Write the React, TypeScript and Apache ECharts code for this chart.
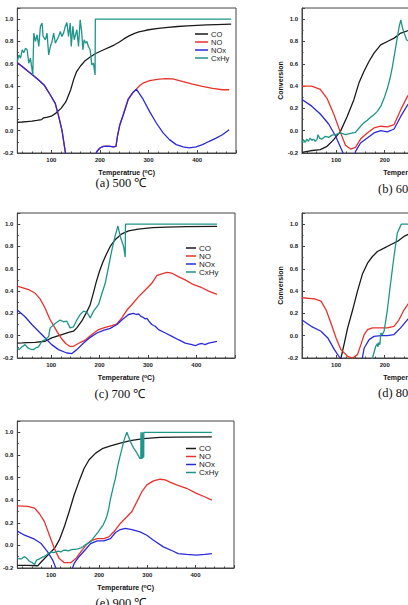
import React, { useEffect, useRef } from 'react';
import * as echarts from 'echarts';

// ---------- labels ----------
const SPECIES = ['CO', 'NO', 'NOx', 'CxHy'];
const COLORS = ['#1a1a1a', '#e8322d', '#2a2ad8', '#1f958a'];
const X_TICKS_FULL = [100, 200, 300, 400];
const X_TICKS_CUT = [100, 200];
const X_TITLES = ['Temperatrue', 'Temperature', 'Temperature', 'Temperature', 'Temperature'];
const CAPTIONS = ['(a) 500 ℃', '(b) 600 ℃', '(c) 700 ℃', '(d) 800 ℃', '(e) 900 ℃'];
const Y_NAME = 'Conversion';

// ---------- (a) 500 ℃ ----------
const A_CO = [[30,0.075],[40,0.078],[50,0.082],[60,0.086],[70,0.092],[80,0.1],[84,0.115],[90,0.12],[100,0.13],[110,0.16],[120,0.2],[130,0.26],[140,0.37],[146,0.46],[152,0.53],[160,0.58],[170,0.63],[180,0.66],[190,0.69],[200,0.71],[210,0.73],[220,0.75],[230,0.77],[240,0.795],[250,0.825],[260,0.85],[270,0.87],[280,0.885],[290,0.895],[300,0.905],[320,0.918],[340,0.927],[360,0.934],[380,0.94],[400,0.944],[420,0.948],[440,0.951],[470,0.955]];
const A_NOX = [[30,0.61],[40,0.575],[50,0.54],[64,0.49],[75,0.45],[85,0.41],[98,0.32],[108,0.245],[115,0.13],[122,0.0],[129,-0.2],[135,-0.4],[186,-0.4],[193,-0.19],[200,-0.155],[207,-0.14],[215,-0.138],[221,-0.14],[227,-0.146],[233,-0.14],[236,-0.05],[241,0.054],[248,0.143],[258,0.28],[268,0.343],[275,0.373],[289,0.28],[302,0.173],[316,0.069],[330,-0.02],[343,-0.08],[357,-0.125],[371,-0.146],[384,-0.155],[398,-0.146],[411,-0.125],[425,-0.095],[439,-0.066],[452,-0.036],[466,0.009]];
const A_NO = [[30,0.61],[40,0.575],[50,0.54],[64,0.49],[75,0.45],[85,0.41],[98,0.32],[108,0.245],[115,0.13],[122,0.0],[129,-0.2],[135,-0.4],[186,-0.4],[193,-0.19],[200,-0.155],[207,-0.14],[215,-0.138],[221,-0.14],[227,-0.146],[233,-0.14],[236,-0.05],[241,0.054],[248,0.143],[258,0.28],[268,0.343],[275,0.373],[282,0.405],[289,0.427],[302,0.448],[322,0.463],[336,0.466],[350,0.464],[371,0.44],[391,0.418],[411,0.397],[432,0.379],[452,0.367],[466,0.367]];
const A_CXHY = [[30,0.62],[33.2,0.68],[36.6,0.65],[40,0.725],[43.4,0.7],[46.8,0.74],[50.2,0.725],[53.6,0.605],[57,0.65],[61.8,0.5],[63.9,0.875],[67.3,0.8],[70.7,0.86],[74.1,0.755],[77.5,0.935],[80.9,0.965],[83,0.845],[87.7,0.815],[91.1,0.875],[94.5,0.68],[98,0.755],[101.4,0.8],[104.8,0.875],[108.2,0.785],[111.6,0.815],[115,0.845],[118.4,0.89],[121.8,0.845],[125.2,0.875],[128.6,0.935],[132,0.97],[135.4,0.845],[138.9,0.965],[140.9,0.755],[144.3,0.935],[147,0.815],[152.5,0.905],[155.9,0.755],[159.3,0.995],[162.7,0.875],[164.8,0.725],[167.5,0.815],[170.2,0.785],[173,0.8],[176.3,0.755],[179.8,0.725],[183.2,0.59],[186.6,0.605],[190,0.5],[190.5,1.0],[470,1.0]];

// ---------- (b) 600 ℃ ----------
const B_CO = [[30,-0.194],[47,-0.18],[67.6,-0.17],[81.4,-0.14],[95.2,-0.08],[109,-0.006],[122.8,0.128],[136.6,0.278],[146.9,0.427],[157.2,0.531],[167.6,0.62],[177.9,0.695],[191.7,0.77],[205.5,0.8],[219.3,0.83],[233.1,0.875],[249.7,0.9],[270,0.92],[300,0.94],[350,0.955],[400,0.96],[470,0.965]];
const B_NO = [[30,0.4],[50,0.4],[67.6,0.37],[81.4,0.29],[95.2,0.15],[109,-0.015],[119.3,-0.13],[129.7,-0.165],[140,-0.15],[150.3,-0.075],[164.1,-0.02],[177.9,0.025],[191.7,0.04],[205.5,0.035],[219.3,0.055],[233.1,0.19],[246.9,0.31],[260,0.38],[280,0.45],[300,0.5],[330,0.52],[360,0.5],[400,0.45],[440,0.4],[470,0.38]];
const B_NOX = [[30,0.28],[50,0.22],[67.6,0.15],[84.8,0.06],[98.6,-0.045],[112.4,-0.18],[116,-0.22],[125,-0.3],[135,-0.3],[140,-0.185],[150.3,-0.11],[164.1,-0.065],[177.9,-0.02],[191.7,0.0],[205.5,-0.01],[219.3,0.015],[233.1,0.13],[246.9,0.23],[260,0.3],[280,0.32],[300,0.25],[340,0.1],[380,0.0],[420,-0.05],[470,-0.05]];
const B_CXHY = [[30,-0.11],[33,-0.08],[36.6,-0.105],[40,-0.075],[43.4,-0.095],[46.9,-0.066],[50.3,-0.087],[53.8,-0.075],[57.2,-0.095],[60.7,-0.08],[62.8,-0.036],[66,-0.066],[71,-0.075],[78,-0.05],[84.8,-0.06],[91.7,-0.04],[98.6,-0.036],[109,-0.02],[119.3,-0.036],[129.7,-0.025],[140,-0.015],[150.3,0.04],[157,0.07],[164.1,0.093],[171,0.12],[177.9,0.143],[184.8,0.173],[191.7,0.218],[198.6,0.29],[205.5,0.38],[211,0.47],[215.9,0.576],[222.8,0.755],[229.7,0.934],[233.1,0.994],[236.6,0.92],[240,0.875],[244.8,0.815],[249.7,0.8],[254,0.78],[254.5,1.0],[470,1.0]];

// ---------- (c) 700 ℃ ----------
const C_CO = [[30,-0.066],[40,-0.065],[50,-0.063],[67,-0.06],[87.6,-0.05],[101,-0.02],[122,0.01],[136,0.03],[146,0.04],[153,0.07],[163,0.13],[172,0.2],[180,0.27],[187,0.38],[193,0.48],[200,0.58],[207,0.66],[214,0.73],[222,0.8],[232,0.86],[245,0.91],[260,0.94],[280,0.955],[310,0.968],[340,0.974],[380,0.978],[443,0.98]];
const C_NO = [[30,0.445],[45,0.425],[55,0.41],[67,0.38],[77,0.33],[87,0.25],[97,0.15],[105,0.09],[113,0.03],[122,-0.03],[130,-0.07],[138,-0.095],[146,-0.095],[156,-0.07],[170,-0.04],[184,0.01],[198,0.055],[211.7,0.075],[225.5,0.09],[236,0.107],[246,0.16],[256.5,0.23],[267,0.28],[280.7,0.35],[294.5,0.41],[308,0.47],[318.6,0.54],[329,0.555],[339,0.567],[349.7,0.56],[363,0.53],[377,0.5],[394.5,0.457],[411.7,0.43],[425.5,0.4],[442.7,0.37]];
const C_NOX = [[30,0.23],[46,0.17],[60,0.1],[73.8,0.04],[87.6,-0.02],[101,-0.08],[115,-0.125],[132.4,-0.155],[142.8,-0.16],[153,-0.125],[167,-0.066],[180.7,-0.015],[194.5,0.024],[208,0.048],[222,0.066],[236,0.1],[246,0.14],[260,0.19],[270,0.2],[276,0.19],[280.7,0.195],[285,0.175],[290,0.165],[294.5,0.15],[298,0.155],[302,0.13],[308,0.1],[315,0.085],[322,0.054],[336,0.024],[349.7,-0.006],[363,-0.036],[377,-0.066],[391,-0.08],[398,-0.09],[405,-0.075],[411.7,-0.07],[418,-0.08],[425.5,-0.066],[442.7,-0.05]];
const C_CXHY = [[30,-0.11],[33,-0.125],[40,-0.1],[46,-0.08],[52,-0.11],[57,-0.12],[63.4,-0.125],[68,-0.11],[73.8,-0.1],[80.7,-0.05],[87.6,-0.035],[94.5,-0.01],[97.9,0.07],[108,0.11],[118.6,0.14],[125.5,0.125],[132.4,0.13],[139,0.07],[146,0.08],[153,0.14],[160,0.19],[167,0.22],[174,0.21],[180.7,0.16],[187.6,0.22],[198,0.28],[205,0.38],[211.7,0.47],[218.6,0.62],[225.5,0.77],[232,0.89],[237.9,0.985],[242.8,0.89],[249.7,0.8],[253,0.705],[253.5,1.0],[443,1.0]];

// ---------- (d) 800 ℃ ----------
const D_CO = [[30,-0.45],[80,-0.35],[105,-0.25],[110,-0.2],[117,-0.066],[123.8,0.07],[134,0.23],[144,0.4],[154,0.55],[164.6,0.65],[174.8,0.71],[185,0.755],[198.6,0.785],[212,0.815],[225.9,0.845],[239.5,0.89],[249,0.91],[270,0.93],[300,0.95],[350,0.96],[470,0.97]];
const D_NO = [[30,0.34],[55.8,0.33],[69,0.31],[79.6,0.23],[89.8,0.11],[100,-0.02],[110,-0.125],[123.8,-0.185],[134,-0.2],[144,-0.17],[151,-0.08],[157.8,0.01],[164.6,0.054],[174.8,0.07],[192,0.07],[205.4,0.07],[219,0.084],[229,0.14],[239.5,0.23],[249,0.29],[260,0.36],[280,0.45],[300,0.52],[330,0.55],[360,0.52],[400,0.47],[440,0.42],[470,0.4]];
const D_NOX = [[30,0.14],[49,0.084],[69,0.04],[83,-0.02],[96.6,-0.125],[108,-0.2],[115,-0.35],[150,-0.35],[154,-0.2],[157.8,-0.11],[168,-0.035],[178,-0.006],[192,0.0],[205.4,0.0],[219,0.01],[232.6,0.07],[246,0.14],[260,0.2],[280,0.22],[300,0.18],[340,0.05],[380,-0.03],[420,-0.06],[470,-0.06]];
const D_CXHY = [[30,-0.5],[170,-0.3],[174.8,-0.2],[181.6,-0.095],[185,-0.07],[186,-0.1],[188,-0.06],[190,-0.08],[192,0.024],[195,0.01],[198.6,0.04],[205.4,0.23],[212,0.47],[219,0.71],[225.9,0.92],[234,1.0],[470,1.0]];

// ---------- (e) 900 ℃ ----------
const E_CO = [[30,-0.176],[52,-0.176],[72.5,-0.18],[79.4,-0.147],[93,-0.087],[106.9,-0.028],[117,0.046],[127.5,0.164],[137.7,0.3],[148,0.446],[158,0.564],[168.6,0.68],[179,0.757],[192.7,0.816],[206.4,0.855],[223.5,0.88],[244,0.905],[264.7,0.926],[292,0.944],[326.5,0.956],[360.8,0.958],[434,0.96]];
const E_NO = [[30,0.35],[52,0.345],[65.7,0.33],[76,0.28],[86.3,0.21],[96.6,0.09],[106.9,-0.028],[117,-0.117],[127.5,-0.153],[141,-0.153],[151.5,-0.117],[161.8,-0.058],[172,0.0],[182,0.04],[196,0.06],[209.8,0.06],[220,0.075],[230.4,0.12],[244,0.194],[257.6,0.253],[268,0.3],[278.4,0.387],[288.7,0.475],[299,0.535],[312.8,0.57],[326.5,0.585],[336.8,0.58],[347,0.56],[360.8,0.535],[381.4,0.505],[402,0.46],[419,0.43],[434,0.4]];
const E_NOX = [[30,0.126],[45,0.09],[65.7,0.055],[79.4,0.016],[93,-0.058],[103.4,-0.13],[110,-0.2],[115,-0.3],[140,-0.3],[144.6,-0.2],[148,-0.16],[158,-0.1],[172,-0.034],[182,0.016],[196,0.04],[209.8,0.04],[223.5,0.06],[233.8,0.114],[244,0.14],[254.3,0.15],[268,0.14],[285,0.12],[299,0.09],[312.8,0.046],[333.4,-0.013],[354,-0.052],[364,-0.073],[381.4,-0.08],[402,-0.087],[419,-0.08],[434,-0.073]];
const E_CXHY = [[30,-0.117],[38,-0.12],[44,-0.1],[48.5,-0.11],[55,-0.14],[60,-0.15],[65.7,-0.17],[70,-0.13],[76,-0.12],[79.4,-0.11],[85,-0.1],[89.7,-0.087],[95,-0.07],[100,-0.058],[105,-0.065],[110,-0.058],[115,-0.05],[120.6,-0.058],[125,-0.045],[130.9,-0.043],[136,-0.048],[141,-0.04],[146,-0.036],[151.5,-0.034],[156,-0.03],[161.8,-0.022],[167,-0.01],[172,0.007],[177,0.02],[182,0.03],[187,0.06],[192.7,0.09],[198,0.12],[203,0.15],[208,0.18],[213,0.224],[216,0.26],[220,0.327],[223,0.4],[227,0.476],[230,0.53],[233.8,0.594],[237,0.67],[240.7,0.742],[244,0.8],[247.6,0.86],[251,0.92],[254.3,0.964],[257.6,1.0],[261,0.96],[264.7,0.92],[268,0.89],[271.6,0.86],[275,0.84],[278.4,0.816],[282,0.79],[284,0.77],[286.5,0.77],[286.7,1.0],[287.5,1.0],[287.7,0.77],[289.5,0.77],[289.7,1.0],[290.5,1.0],[290.7,0.78],[292.5,0.78],[292.7,1.0],[434,1.0]];

const PANEL_DATA = [
  [A_CO, A_NO, A_NOX, A_CXHY],
  [B_CO, B_NO, B_NOX, B_CXHY],
  [C_CO, C_NO, C_NOX, C_CXHY],
  [D_CO, D_NO, D_NOX, D_CXHY],
  [E_CO, E_NO, E_NOX, E_CXHY],
];

// ---------- layout ----------
const CANVAS_W = 540;
const GRIDS = [
  { left: 17, top: 8, width: 219, height: 145 },
  { left: 302, top: 8, width: 219, height: 145 },
  { left: 16, top: 213, width: 219, height: 145 },
  { left: 302, top: 213, width: 219, height: 145 },
  { left: 16, top: 421, width: 218, height: 147 },
];
const SHOW_YNAME = [false, true, false, true, false];
const PANEL_XTICKS = [X_TICKS_FULL, X_TICKS_CUT, X_TICKS_FULL, X_TICKS_CUT, X_TICKS_FULL];
const CAPTION_POS = [
  { x: 121, y: 183, align: 'center' },
  { x: 378, y: 189, align: 'left' },
  { x: 120, y: 394, align: 'center' },
  { x: 378, y: 393, align: 'left' },
  { x: 121, y: 603, align: 'center' },
];
const LEGENDS = [
  { left: 195, top: 30, itemWidth: 13, fontSize: 7.5 },
  { left: 186, top: 244, itemWidth: 10, fontSize: 8 },
  { left: 186, top: 444.5, itemWidth: 10, fontSize: 8 },
];

const SANS = '"Liberation Sans", Arial, sans-serif';
const SERIF = '"Liberation Serif", "Times New Roman", serif';

export default function App() {
  const ref = useRef<HTMLDivElement>(null);
  useEffect(() => {
    if (!ref.current) return;
    const chart = echarts.init(ref.current, undefined, { renderer: 'svg' });

    const xAxis = GRIDS.map((_, i) => ({
      type: 'value',
      gridIndex: i,
      min: 30,
      max: 480,
      name: `{t|${X_TITLES[i]} (}{s|o}{t|C)}`,
      nameLocation: 'middle',
      nameGap: 15,
      nameTextStyle: {
        rich: {
          t: { fontSize: 7, fontWeight: 'bold', fontFamily: SANS, color: '#111', lineHeight: 9 },
          s: { fontSize: 5, fontWeight: 'bold', fontFamily: SANS, color: '#111', lineHeight: 5, verticalAlign: 'top' },
        },
      },
      axisLine: { show: true, onZero: false, lineStyle: { color: '#444', width: 1 } },
      axisTick: { show: true, inside: true, length: 3, lineStyle: { color: '#444' } },
      minorTick: { show: true, splitNumber: 5, length: 1.5, lineStyle: { color: '#444' } },
      splitLine: { show: false },
      axisLabel: {
        showMinLabel: false,
        showMaxLabel: false,
        fontSize: 6,
        fontWeight: 'bold',
        fontFamily: SANS,
        color: '#222',
        margin: 4,
        formatter: (v: number) => (PANEL_XTICKS[i].includes(v) ? String(v) : ''),
      },
    }));

    const yAxis = GRIDS.map((_, i) => ({
      type: 'value',
      gridIndex: i,
      min: -0.2,
      max: 1.1,
      interval: 0.2,
      name: SHOW_YNAME[i] ? Y_NAME : '',
      nameLocation: 'middle',
      nameGap: 16,
      nameRotate: 90,
      nameTextStyle: { fontSize: 7, fontWeight: 'bold', fontFamily: SANS, color: '#111' },
      axisLine: { show: true, onZero: false, lineStyle: { color: '#444', width: 1 } },
      axisTick: { show: true, inside: true, length: 3, lineStyle: { color: '#444' } },
      minorTick: { show: true, splitNumber: 2, length: 1.5, lineStyle: { color: '#444' } },
      splitLine: { show: false },
      axisLabel: {
        showMaxLabel: false,
        fontSize: 6,
        fontWeight: 'bold',
        fontFamily: SANS,
        color: '#222',
        margin: 4,
        formatter: (v: number) => v.toFixed(1),
      },
    }));

    const series: any[] = [];
    PANEL_DATA.forEach((panel, i) => {
      panel.forEach((data, k) => {
        series.push({
          type: 'line',
          name: SPECIES[k],
          xAxisIndex: i,
          yAxisIndex: i,
          data,
          symbol: 'none',
          showSymbol: false,
          clip: true,
          lineStyle: { color: COLORS[k], width: 1.3 },
          itemStyle: { color: COLORS[k] },
          z: 2 + k,
        });
      });
    });

    const legend = LEGENDS.map((l) => ({
      data: SPECIES,
      orient: 'vertical',
      left: l.left,
      top: l.top,
      icon: 'rect',
      itemWidth: l.itemWidth,
      itemHeight: 1.5,
      itemGap: 0,
      selectedMode: false,
      padding: 0,
      textStyle: { fontSize: l.fontSize, lineHeight: 7.8, fontFamily: SANS, color: '#222', padding: [0, 0, 0, -2] },
    }));

    const graphic = CAPTIONS.map((c, i) => ({
      type: 'text',
      x: CAPTION_POS[i].x,
      y: CAPTION_POS[i].y,
      style: {
        text: c,
        font: `12.5px ${SERIF}`,
        fill: '#111',
        align: CAPTION_POS[i].align,
        verticalAlign: 'middle',
        textAlign: CAPTION_POS[i].align,
        textVerticalAlign: 'middle',
      },
    }));

    chart.setOption({
      animation: false,
      backgroundColor: '#ffffff',
      grid: GRIDS.map((g) => ({ ...g, show: true, borderColor: '#444', borderWidth: 1, backgroundColor: 'transparent', containLabel: false })),
      xAxis,
      yAxis,
      legend,
      series,
      graphic,
    });
    return () => chart.dispose();
  }, []);

  return (
    <div style={{ position: 'absolute', left: 0, top: 0, width: 408, height: 605, overflow: 'hidden', background: '#fff' }}>
      <div ref={ref} style={{ width: CANVAS_W, height: 605 }} />
    </div>
  );
}
